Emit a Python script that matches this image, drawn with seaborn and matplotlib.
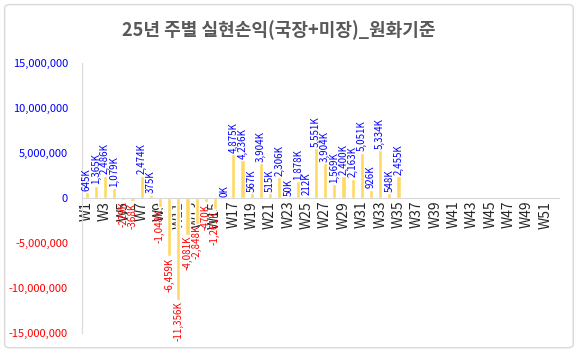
import numpy as np
import pandas as pd
import matplotlib.pyplot as plt
import seaborn as sns
from matplotlib.patches import FancyBboxPatch

weeks = [f'W{i}' for i in range(1, 53)]
# 주별 실현손익 (천원 단위, W1~W35)
pnl_k = [645, 1365, 2486, 1079, -229, -368, 2474, 375, -1048, -6459,
         -11356, -4081, -2848, -470, -1261, 0, 4875, 4236, 567, 3904,
         515, 2306, 50, 1878, 212, 5551, 3904, 1569, 2400, 2163,
         5051, 926, 5334, 548, 2455]
values = [v * 1000 for v in pnl_k] + [np.nan] * (len(weeks) - len(pnl_k))

df = pd.DataFrame({'week': weeks, 'value': values})

sns.set_style('white')
plt.rcParams['font.family'] = ['Noto Sans CJK KR', 'DejaVu Sans']

fig = plt.figure(figsize=(5.79, 3.52), dpi=100)
ax = fig.add_axes([0.1416, 0.054, 0.824, 0.767])

sns.barplot(data=df, x='week', y='value', order=weeks, color='#FFD966',
            width=0.45, saturation=1, ax=ax)

ax.set_ylim(-15_000_000, 15_000_000)
ax.set_xlim(-0.5, len(weeks) - 0.5)
ax.set_yticks(np.arange(-15_000_000, 15_000_001, 5_000_000))
ax.set_yticklabels([f'{int(t):,}' for t in ax.get_yticks()], fontsize=8)
for lab, t in zip(ax.get_yticklabels(), ax.get_yticks()):
    lab.set_color('#0000FF' if t >= 0 else '#FF0000')

ax.set_xticks(range(0, len(weeks), 2))
ax.set_xticklabels(weeks[::2], fontsize=8, color='#595959')
ax.tick_params(axis='both', length=0)
ax.tick_params(axis='x', labelrotation=90, pad=2)
ax.tick_params(axis='y', pad=10)
ax.set_xlabel('')
ax.set_ylabel('')

ax.spines['bottom'].set_position(('data', 0))
for s in ['top', 'right']:
    ax.spines[s].set_visible(False)
for s in ['left', 'bottom']:
    ax.spines[s].set_color('#D9D9D9')
    ax.spines[s].set_linewidth(0.8)

for i, v in enumerate(values):
    if np.isnan(v):
        continue
    txt = f'{int(round(v / 1000)):,}K'
    if v >= 0:
        ax.text(i, v + 150_000, txt, rotation=90, ha='center', va='bottom',
                fontsize=7, color='#0000FF')
    else:
        ax.text(i, v - 150_000, txt, rotation=90, ha='center', va='top',
                fontsize=7, color='#FF0000')

fig.text(0.481, 0.915, '25년 주별 실현손익(국장+미장)_원화기준', ha='center',
         va='center', fontsize=13, fontweight='bold', color='#595959')

fig.patches.append(FancyBboxPatch((0.008, 0.012), 0.982, 0.975,
                                  boxstyle='round,pad=0,rounding_size=0.01',
                                  transform=fig.transFigure, fill=False,
                                  edgecolor='#D9D9D9', linewidth=1))

fig.savefig('out.png', dpi=100)
